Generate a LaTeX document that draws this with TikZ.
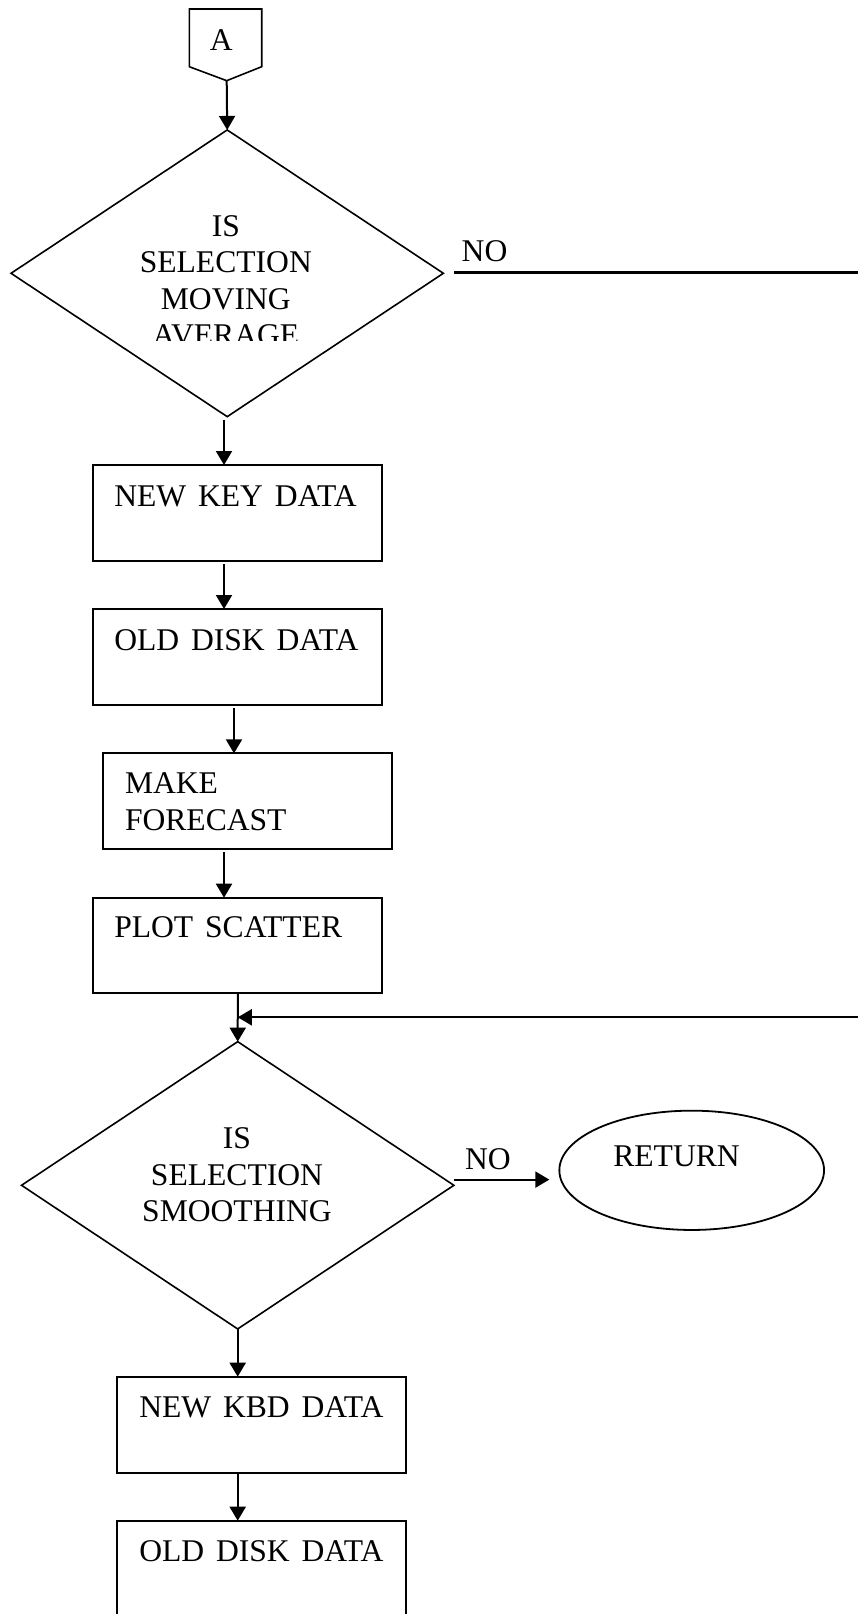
\documentclass[tikz,border=0pt]{standalone}
\usepackage{fontspec}
\setmainfont{Liberation Serif}[WordSpace=1.5]
\usetikzlibrary{shapes.geometric,arrows.meta}
\begin{document}
\begin{tikzpicture}[x=1pt,y=-1pt,
  every node/.style={inner sep=0pt, outer sep=0pt},
  txt/.style={font=\fontsize{31.6}{36.5}\selectfont},
  box/.style={draw, line width=2pt, rectangle},
  dia/.style={draw, line width=1.6pt, diamond},
  arr/.style={line width=2pt, -{Triangle[width=16pt,length=14pt]}},
  ln/.style={line width=2.8pt}]
\path[use as bounding box] (0,0) rectangle (858,1614);
\clip (0,0) rectangle (858,1614);

% connector A
\draw[line width=1.6pt] (189.3,9) -- (261.7,9) -- (261.7,66.7) -- (226.7,80.7) -- (189.3,66.7) -- cycle;
\coordinate (Atip) at (226.7,80.7);
\node[txt, anchor=base] (Alab) at (221.3,50) {A};

% decision 1
\node[dia, minimum width=432.3pt, minimum height=286.7pt] (d1) at (227.2,273.3) {};
\node[txt, anchor=base] (d1a) at (225.8,236.7) {IS};
\node[txt, anchor=base] (d1b) at (225.8,272.7) {SELECTION};
\node[txt, anchor=base] (d1c) at (225.8,309.3) {MOVING};
\begin{scope}
\clip (0,0) rectangle (858,340);
\node[txt, anchor=base] (d1d) at (225.8,345.8) {AVERAGE};
\end{scope}
\coordinate (r1) at (858,272.3);
\draw[ln] ([shift={(10.7pt,1pt)}]d1.east) -- (r1);
\node[txt, anchor=base west] (no1) at (461.7,261.7) {NO};

% process boxes
\node[box, minimum width=289pt, minimum height=96pt] (b1) at (237.8,513) {};
\node[txt, anchor=base west] (b1t) at (114.3,506) {NEW KEY DATA};
\node[box, minimum width=289pt, minimum height=96pt] (b2) at (237.8,657) {};
\node[txt, anchor=base west] (b2t) at (114.3,650) {OLD DISK DATA};
\node[box, minimum width=289pt, minimum height=95.7pt] (b3) at (247.8,801.2) {};
\node[txt, anchor=base west] (b3t) at (125,793.3) {MAKE};
\node[txt, anchor=base west] (b3u) at (125,830) {FORECAST};
\node[box, minimum width=289pt, minimum height=95.6pt] (b4) at (237.8,945.5) {};
\node[txt, anchor=base west] (b4t) at (114.3,937.3) {PLOT SCATTER};

% decision 2
\node[dia, minimum width=432.3pt, minimum height=287.3pt] (d2) at (237.7,1185.3) {};
\node[txt, anchor=base] (d2a) at (237,1148.3) {IS};
\node[txt, anchor=base] (d2b) at (237,1185) {SELECTION};
\node[txt, anchor=base] (d2c) at (237,1221.7) {SMOOTHING};

\node[draw, ellipse, line width=1.8pt, minimum width=264.7pt, minimum height=119.3pt] (ret) at (691.7,1170.3) {};
\node[txt, anchor=base west] (rett) at (613.3,1166) {RETURN};
\node[txt, anchor=base west] (no2) at (465,1169.3) {NO};

\node[box, minimum width=288.7pt, minimum height=96.6pt] (b5) at (261.7,1425) {};
\node[txt, anchor=base west] (b5t) at (139.3,1417.3) {NEW KBD DATA};
\node[box, minimum width=288.7pt, minimum height=96.6pt] (b6) at (261.7,1569) {};
\node[txt, anchor=base west] (b6t) at (139.3,1561.7) {OLD DISK DATA};

% connectors
\draw[arr] (Atip) -- (d1.north);
\draw[arr] ([shift={(-3.2pt,-3.3pt)}]d1.south) -- ([xshift=-13.8pt]b1.north);
\draw[arr] ([shift={(-13.8pt,-3pt)}]b1.south) -- ([xshift=-13.8pt]b2.north);
\draw[arr] ([shift={(-3.8pt,-3pt)}]b2.south) -- ([xshift=-13.8pt]b3.north);
\draw[arr] ([shift={(-23.8pt,-3pt)}]b3.south) -- ([xshift=-13.8pt]b4.north);
\draw[arr] (b4.south) -- (d2.north);
\coordinate (r2) at (858,1017.3);
\draw[arr] (r2) -- (r2 -| b4.south);
\coordinate (n2s) at ([shift={(0.3pt,5.7pt)}]d2.east);
\draw[arr, shorten >=10pt] (n2s) -- (n2s -| ret.west);
\draw[arr] (d2.south) -- ([xshift=-24pt]b5.north);
\draw[arr] ([xshift=-24pt]b5.south) -- ([xshift=-24pt]b6.north);
\end{tikzpicture}
\end{document}
